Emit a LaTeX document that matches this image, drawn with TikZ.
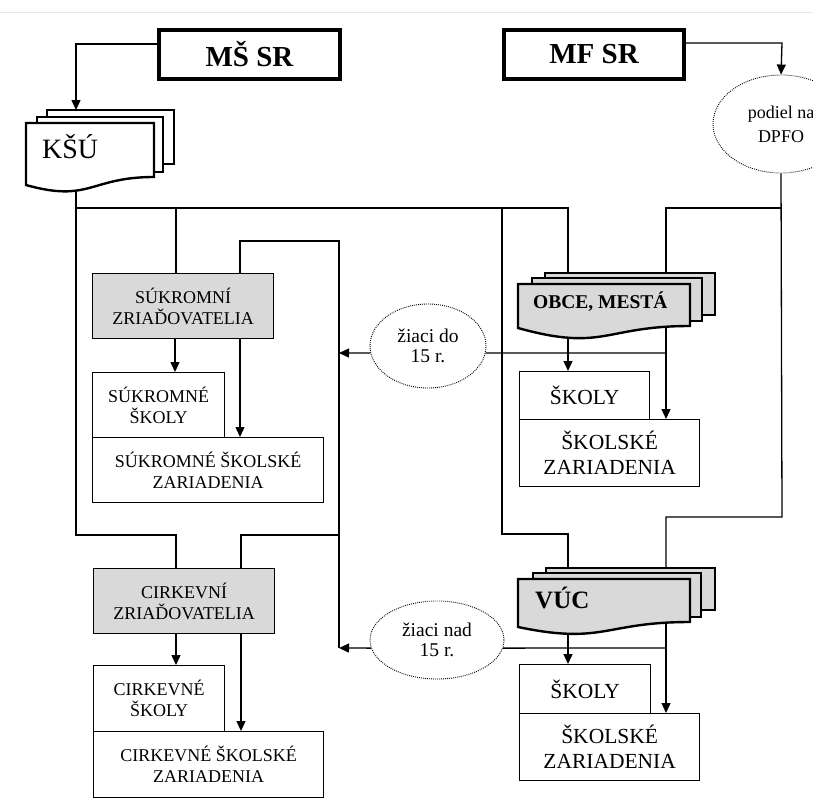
\documentclass[tikz,border=0pt]{standalone}
\usepackage{fontspec}
\setmainfont{Liberation Serif}
\usetikzlibrary{arrows.meta,shapes.geometric}
\definecolor{boxgray}{gray}{0.85}
\pgfdeclarelayer{bg}
\pgfsetlayers{bg,main}
\begin{document}
\begin{tikzpicture}[x=1pt,y=-1pt,
  conn/.style={line width=1.3pt},
  arr/.style={conn,-{Triangle[length=10pt,width=9pt]}},
  box/.style={draw,line width=1.3pt,fill=white,inner sep=0pt,anchor=north west,align=center,font=\fontsize{18}{21}\selectfont},
  graybox/.style={box,fill=boxgray},
  bigbox/.style={box,font=\fontsize{21.5}{25}\selectfont},
  headbox/.style={draw,line width=4pt,fill=white,inner sep=0pt,anchor=north west,font=\bfseries\fontsize{29}{32}\selectfont},
  oval/.style={ellipse,draw,fill=white,line width=0.9pt,dash pattern=on 0.9pt off 1.1pt,inner sep=0pt,align=center,font=\fontsize{19.5}{20}\selectfont},
  page/.style={draw,line width=1.8pt},
  frontpage/.style={draw,line width=2.4pt},
  lbl/.style={inner sep=0pt,anchor=base west},
]
\useasboundingbox (0,0) rectangle (813,800);
\clip (0,0) rectangle (813,800);
\draw[black!9,line width=1pt] (0,13) -- (813,13);

% header boxes
\node[headbox,minimum width=181pt,minimum height=49pt] (ms) at (157,28) {MŠ SR};
\node[headbox,minimum width=180pt,minimum height=49pt] (mf) at (502,28) {MF SR};

% KSU multi-document
\filldraw[page,fill=white] (47,110) rectangle (174,164);
\filldraw[page,fill=white] (37,117) rectangle (163,172);
\filldraw[frontpage,fill=white] (26,123) -- (154,123) -- (154,177) .. controls (90,177) and (90,203) .. (26,185) -- cycle;
\node[lbl,font=\fontsize{28}{30}\selectfont] (ksu) at (42,158) {KŠÚ};

% OBCE multi-document
\filldraw[page,fill=boxgray] (545,273) rectangle (715,315);
\filldraw[page,fill=boxgray] (532,278) rectangle (702,321);
\filldraw[frontpage,fill=boxgray] (518,284) -- (690,284) -- (690,326) .. controls (604,326) and (604,352) .. (518,328) -- cycle;
\node[lbl,font=\bfseries\fontsize{19.5}{22}\selectfont] (obce) at (533,308) {OBCE, MESTÁ};

% VUC multi-document
\filldraw[page,fill=boxgray] (546,568) rectangle (715,610);
\filldraw[page,fill=boxgray] (533,573) rectangle (701,617);
\filldraw[frontpage,fill=boxgray] (518,579) -- (690,579) -- (690,622) .. controls (604,622) and (604,645) .. (518,627) -- cycle;
\node[lbl,font=\bfseries\fontsize{25}{28}\selectfont] (vuc) at (535,608) {VÚC};

% ellipses
\node[oval,minimum width=136pt,minimum height=98pt,font=\fontsize{18}{24}\selectfont] (dpfo) at (781,124) {podiel na\\DPFO};
\node[oval,minimum width=116pt,minimum height=84pt] (eldo) at (428,346) {žiaci do\\15 r.};
\node[oval,minimum width=134pt,minimum height=78pt] (elnad) at (437,640) {žiaci nad\\15 r.};

% boxes
\node[graybox,minimum width=181pt,minimum height=65pt] (sz) at (92,273) {SÚKROMNÍ\\ZRIAĎOVATELIA};
\node[box,minimum width=132pt,minimum height=65pt] (ss) at (92,372) {SÚKROMNÉ\\ŠKOLY};
\node[box,minimum width=231pt,minimum height=65pt] (ssz) at (92,437) {SÚKROMNÉ ŠKOLSKÉ\\ZARIADENIA};
\node[graybox,minimum width=181pt,minimum height=65pt] (cz) at (93,568) {CIRKEVNÍ\\ZRIAĎOVATELIA};
\node[box,minimum width=131pt,minimum height=66pt] (cs) at (93,665) {CIRKEVNÉ\\ŠKOLY};
\node[box,minimum width=230pt,minimum height=66pt] (csz) at (93,731) {CIRKEVNÉ ŠKOLSKÉ\\ZARIADENIA};
\node[bigbox,minimum width=130pt,minimum height=48pt] (os) at (519,371) {ŠKOLY};
\node[bigbox,minimum width=180pt,minimum height=67pt] (osz) at (519,419) {ŠKOLSKÉ\\ZARIADENIA};
\node[bigbox,minimum width=131pt,minimum height=49pt] (vs) at (519,664) {ŠKOLY};
\node[bigbox,minimum width=180pt,minimum height=67pt] (vsz) at (519,713) {ŠKOLSKÉ\\ZARIADENIA};

% junction coordinates
\coordinate (c1) at (76,44);
\coordinate (ksuTop) at (76,110);
\coordinate (ksuBot) at (76,186);
\coordinate (bL) at (76,208);
\coordinate (bR) at (568,208);
\coordinate (obTop) at (568,274);
\coordinate (szX) at (176,208);
\coordinate (bM) at (502,208);
\coordinate (bM2) at (502,534);
\coordinate (bM3) at (568,534);
\coordinate (vucTop) at (568,569);
\coordinate (lowL) at (76,535);
\coordinate (lowC) at (176,535);
\coordinate (sp1) at (240,241);
\coordinate (sp2) at (339,241);
\coordinate (sp3) at (339,648);
\coordinate (sp4) at (339,535);
\coordinate (sp5) at (241,535);
\coordinate (p1) at (339,353);
\coordinate (xs1) at (175,0);
\coordinate (xs2) at (240,0);
\coordinate (xc1) at (176,0);
\coordinate (xc2) at (241,0);
\coordinate (m1) at (782,43);
\coordinate (r1) at (782,517);
\coordinate (r2) at (666,517);
\coordinate (vucTop2) at (666,569);
\coordinate (r3) at (782,208);
\coordinate (r4) at (666,208);
\coordinate (obTop2) at (666,274);
\coordinate (o1) at (568,335);
\coordinate (o2) at (666,324);
\coordinate (o3) at (666,353);
\coordinate (v1) at (568,630);
\coordinate (v2) at (666,620);
\coordinate (v3) at (666,648);

\begin{pgfonlayer}{bg}
% ministry arrows
\draw[arr] (ms.west |- c1) -- (c1) -- (ksuTop);
\draw[arr] (mf.east |- m1) -- (m1) -- (dpfo.north);
% KSU bus
\draw[conn] (ksuBot) -- (lowL) -- (lowC) -- (lowC |- cz.north);
\draw[conn] (bL) -- (bR) -- (obTop);
\draw[conn] (szX) -- (szX |- sz.north);
\draw[conn] (bM) -- (bM2) -- (bM3) -- (vucTop);
% DPFO bus
\draw[conn] (dpfo.south) -- (r1) -- (r2) -- (vucTop2);
\draw[conn] (r3) -- (r4) -- (obTop2);
% private / church loop
\draw[conn] (sp1 |- sz.north) -- (sp1) -- (sp2) -- (sp3);
\draw[conn] (sp4) -- (sp5) -- (sp5 |- cz.north);
\draw[arr] (xs1 |- sz.south) -- (xs1 |- ss.north);
\draw[arr] (xs2 |- sz.south) -- (xs2 |- ssz.north);
\draw[arr] (xc1 |- cz.south) -- (xc1 |- cs.north);
\draw[arr] (xc2 |- cz.south) -- (xc2 |- csz.north);
% OBCE outputs
\draw[arr] (o1) -- (o1 |- os.north);
\draw[arr] (o2) -- (o2 |- osz.north);
\draw[conn] (o3) -- (eldo.-7);
\draw[arr] (eldo.187) -- (p1);
% VUC outputs
\draw[arr] (v1) -- (v1 |- vs.north);
\draw[arr] (v2) -- (v2 |- vsz.north);
\draw[conn] (v3) -- (elnad.-7);
\draw[arr] (elnad.187) -- (sp3);
\end{pgfonlayer}
\end{tikzpicture}
\end{document}
